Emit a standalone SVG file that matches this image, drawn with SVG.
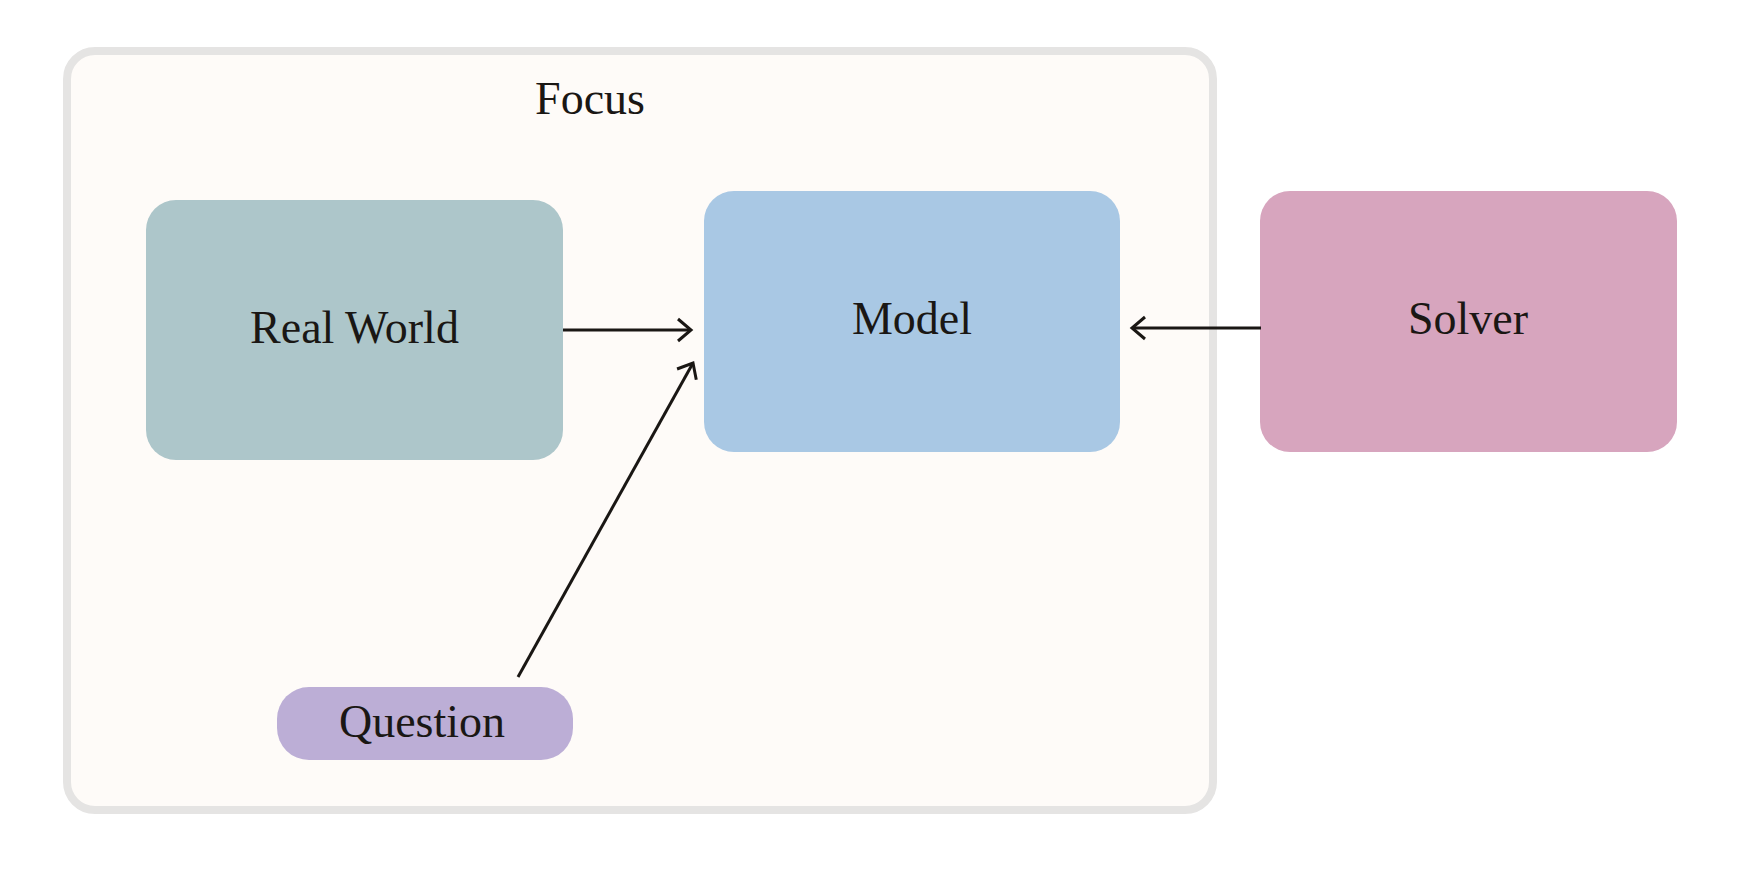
<svg xmlns="http://www.w3.org/2000/svg" width="1746" height="872" viewBox="0 0 1746 872">
  <style>
    .lbl { font-family: "Liberation Serif", "DejaVu Serif", serif; font-size: 46px; fill: #1a1714; text-anchor: middle; }
    .edge { fill: none; stroke: #1a1714; stroke-width: 3; marker-end: url(#arrow); }
  </style>
  <defs>
    <marker id="arrow" markerUnits="userSpaceOnUse" markerWidth="30" markerHeight="30" viewBox="-5 -15 30 30" refX="0" refY="0" orient="auto" overflow="visible">
      <path d="M-13,-11 L0,0 L-13,11" fill="none" stroke="#1a1714" stroke-width="3"/>
    </marker>
  </defs>
  <rect width="1746" height="872" fill="#ffffff"/>
  <g id="focus">
    <rect x="67" y="51" width="1146" height="759" rx="28" ry="28" fill="#fefbf8" stroke="#e5e4e3" stroke-width="8"/>
    <text class="lbl" x="590" y="114">Focus</text>
  </g>
  <g id="real-world">
    <rect x="146" y="200" width="417" height="260" rx="30" ry="30" fill="#adc6ca"/>
    <text class="lbl" x="354.5" y="343">Real World</text>
  </g>
  <g id="model">
    <rect x="704" y="191" width="416" height="261" rx="30" ry="30" fill="#a9c8e4"/>
    <text class="lbl" x="912" y="334">Model</text>
  </g>
  <g id="solver">
    <rect x="1260" y="191" width="417" height="261" rx="30" ry="30" fill="#d7a5be"/>
    <text class="lbl" x="1468" y="334">Solver</text>
  </g>
  <g id="question">
    <rect x="277" y="687" width="296" height="73" rx="32" ry="32" fill="#bcaed6"/>
    <text class="lbl" x="422" y="737">Question</text>
  </g>
  <g id="connectors">
    <line class="edge" x1="563" y1="330" x2="691" y2="330"/>
    <line class="edge" x1="1261" y1="328" x2="1132" y2="328"/>
    <line class="edge" x1="518" y1="677" x2="693" y2="363"/>
  </g>
</svg>
